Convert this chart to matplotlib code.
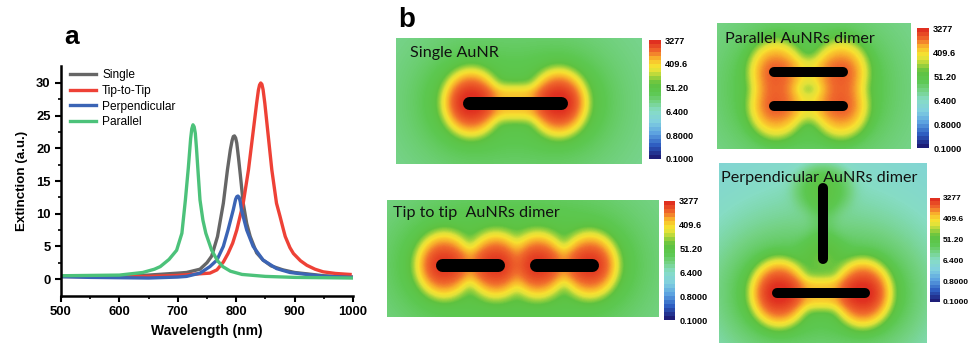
import matplotlib.pyplot as plt
import numpy as np
from matplotlib.colors import LinearSegmentedColormap, Normalize
from matplotlib.cm import ScalarMappable

plt.rcParams['font.family'] = ['Liberation Sans', 'DejaVu Sans']

# ---- panel a : extinction spectra ----
wl_single = [500, 600, 650, 700, 715, 738, 750, 758, 768, 778, 785, 790, 793, 795, 797,
             799, 801, 804, 807, 812, 818, 824, 835, 846, 860, 880, 900, 950, 1000]
ext_single = [0.4, 0.45, 0.6, 0.9, 1.0, 1.5, 2.5, 3.5, 6.5, 11.6, 16.7, 19.8, 21.2, 21.8, 21.9,
              21.6, 20.8, 18.5, 16.0, 11.6, 8.5, 6.5, 4.0, 2.9, 2.0, 1.4, 1.0, 0.5, 0.3]

wl_tip = [500, 550, 600, 650, 700, 730, 755, 767, 778, 786, 794, 801, 812, 821, 828, 835,
          838, 840, 842, 844, 846, 849, 855, 861, 869, 875, 881, 884, 892, 898, 910, 921,
          935, 949, 970, 995]
ext_tip = [0.4, 0.35, 0.35, 0.4, 0.55, 0.75, 0.9, 1.4, 2.6, 3.9, 5.5, 7.5, 11.6, 16.7, 21.8, 26.9,
           28.9, 29.7, 30.0, 29.8, 29.0, 26.9, 21.8, 16.7, 11.6, 9.6, 7.5, 6.5, 4.8, 3.9, 2.8, 2.1,
           1.5, 1.1, 0.85, 0.7]

wl_perp = [500, 550, 600, 650, 700, 715, 738, 755, 767, 778, 786, 795, 799, 801, 803, 805,
           807, 809, 818, 829, 846, 869, 892, 950, 1000]
ext_perp = [0.35, 0.25, 0.2, 0.15, 0.3, 0.4, 0.9, 1.9, 2.9, 5.0, 7.5, 10.6, 12.2, 12.6, 12.7, 12.5,
            11.8, 10.6, 7.5, 5.0, 2.9, 1.6, 1.0, 0.4, 0.25]

wl_par = [500, 550, 600, 640, 660, 670, 685, 698, 707, 713, 718, 722, 724, 726, 728, 730,
          732, 735, 738, 743, 748, 758, 768, 777, 790, 810, 850, 900, 1000]
ext_par = [0.5, 0.55, 0.6, 1.0, 1.5, 1.9, 3.0, 4.4, 7.0, 12.1, 17.0, 21.5, 23.0, 23.6, 23.3, 22.3,
           20.0, 16.0, 12.1, 9.0, 7.0, 4.4, 2.8, 1.9, 1.2, 0.7, 0.4, 0.25, 0.15]

labels = ['Single', 'Tip-to-Tip', 'Perpendicular', 'Parallel']
colors = ['#666666', '#ee4136', '#3b64b5', '#4cc27a']

# ---- panel b : near-field maps ----
# rods: (x0, y0, x1, y1, thickness, excitation) in image pixels
map_titles = ['Single AuNR', 'Parallel AuNRs dimer', 'Tip to tip  AuNRs dimer', 'Perpendicular AuNRs dimer']
map_sizes = [(246, 126), (194, 126), (272, 117), (208, 180)]
map_rods = [
    [(73, 65, 165, 65, 13, 1.0)],
    [(57, 49, 126, 49, 10, 0.42), (57, 83, 126, 83, 10, 0.42)],
    [(55, 65, 111, 65, 13, 0.8), (149, 65, 205, 65, 13, 0.8)],
    [(104, 25, 104, 96, 10, 0.015), (58, 130, 146, 130, 10, 1.0)],
]
map_bg = [9.0, 9.0, 9.0, 1.5]
cbar_labels = ['0.1000', '0.8000', '6.400', '51.20', '409.6', '3277']

cmap = LinearSegmentedColormap.from_list('field', [
    (0.00, '#1e1e78'), (0.10, '#2d5cc0'), (0.20, '#5aa0e0'), (0.30, '#80d0e0'),
    (0.40, '#86dcc4'), (0.48, '#74d284'), (0.56, '#5cc850'), (0.64, '#5ec240'),
    (0.70, '#a0d23c'), (0.75, '#e0e23a'), (0.80, '#f8e030'), (0.86, '#f8b02c'),
    (0.92, '#f06a2c'), (1.00, '#e03020')])
cmap_d = cmap.resampled(30)

fig = plt.figure(figsize=(9.68, 3.45), dpi=100)
W, H = 968, 345


def px_axes(x0, y0, x1, y1):
    return fig.add_axes([x0 / W, 1 - y1 / H, (x1 - x0) / W, (y1 - y0) / H])


# panel a
ax = px_axes(61, 66, 353, 296)
for wl, ext, lab, c in zip([wl_single, wl_tip, wl_perp, wl_par],
                           [ext_single, ext_tip, ext_perp, ext_par], labels, colors):
    ax.plot(wl, ext, color=c, lw=2.4, label=lab)
ax.set_xlim(500, 1000)
ax.set_ylim(-2.6, 32.6)
ax.set_xticks(range(500, 1001, 100))
ax.set_xticks(range(550, 1000, 100), minor=True)
ax.set_yticks(range(0, 31, 5))
ax.set_yticks(np.arange(2.5, 31, 5), minor=True)
for s in ['top', 'right']:
    ax.spines[s].set_visible(False)
for s in ['left', 'bottom']:
    ax.spines[s].set_linewidth(1.8)
ax.tick_params(which='major', direction='out', length=4, width=1.5, labelsize=9.4)
ax.tick_params(which='minor', direction='out', length=2.5, width=1.2)
for t in ax.get_xticklabels() + ax.get_yticklabels():
    t.set_fontweight('bold')
ax.set_xlabel('Wavelength (nm)', fontsize=10, fontweight='bold', labelpad=4)
ax.set_ylabel('Extinction (a.u.)', fontsize=9.6, fontweight='bold', labelpad=6)
ax.legend(loc='upper left', bbox_to_anchor=(0.03, 0.985), frameon=False, fontsize=8.6,
          handlelength=2.2, handletextpad=0.5, labelspacing=0.3, borderpad=0, borderaxespad=0)

fig.text(72 / W, 1 - 37 / H, 'a', fontsize=19, fontweight='bold', ha='center', va='center')
fig.text(407 / W, 1 - 20 / H, 'b', fontsize=20, fontweight='bold', ha='center', va='center')

map_boxes = [(396, 38, 642, 164), (717, 23, 911, 149), (387, 200, 659, 317), (719, 163, 927, 343)]
cbar_boxes = [(649, 40, 661, 159), (917, 28, 929, 148), (664, 201, 675, 320), (930, 198, 940, 302)]
title_pos = [(410, 53), (725, 39), (393, 213), (721, 178)]

for k in range(4):
    w, h = map_sizes[k]
    xx, yy = np.meshgrid(np.arange(w) + 0.5, np.arange(h) + 0.5)
    E = np.full(xx.shape, map_bg[k])
    for (x0, y0, x1, y1, th, amp) in map_rods[k]:
        L = np.hypot(x1 - x0, y1 - y0)
        ux, uy = (x1 - x0) / L, (y1 - y0) / L
        # distance to the rod surface, for the glow along the body
        s = np.clip((xx - x0) * ux + (yy - y0) * uy, 0, L)
        d = np.clip(np.hypot(xx - (x0 + s * ux), yy - (y0 + s * uy)) - th / 2, 0, None)
        E += amp * 500 * np.exp(-(d / 9) ** 2)
        for (px, py, sgn) in [(x0, y0, 1), (x1, y1, -1)]:
            # hot spot sits a little inside the rod end, lobes a bit taller than wide
            sx, sy = px + sgn * ux * 2, py + sgn * uy * 2
            along = (xx - sx) * ux + (yy - sy) * uy
            perp = -(xx - sx) * uy + (yy - sy) * ux
            r_near = np.hypot(along, perp / 1.15)
            r = np.hypot(along, perp)
            E += amp * (2200 * np.exp(-(r_near / 21) ** 3) + 200 * (20 / np.sqrt(r ** 2 + 100)) ** 2.5)
    u = np.clip(np.log(E / 0.1) / np.log(8), 0, 5)
    m = px_axes(*map_boxes[k])
    m.imshow(u, cmap=cmap, vmin=0, vmax=5, extent=(0, w, h, 0), aspect='auto',
             interpolation='bilinear')
    for (x0, y0, x1, y1, th, amp) in map_rods[k]:
        m.plot([x0, x1], [y0, y1], color='black', lw=th * 0.72, solid_capstyle='round')
    m.set_xlim(0, w)
    m.set_ylim(h, 0)
    m.axis('off')
    tx, ty = title_pos[k]
    fig.text(tx / W, 1 - ty / H, map_titles[k], fontsize=11.6, family='Lato',
             ha='left', va='center', color='#111111')

    cax = px_axes(*cbar_boxes[k])
    cb = fig.colorbar(ScalarMappable(norm=Normalize(0, 5), cmap=cmap_d), cax=cax,
                      ticks=range(6))
    cb.set_ticklabels(cbar_labels)
    cb.outline.set_visible(False)
    cax.tick_params(length=0, pad=2 if k == 3 else 3, labelsize=6.0 if k == 3 else 6.6)
    for t in cax.get_yticklabels():
        t.set_fontweight('bold')

fig.savefig('out.png', dpi=100)
